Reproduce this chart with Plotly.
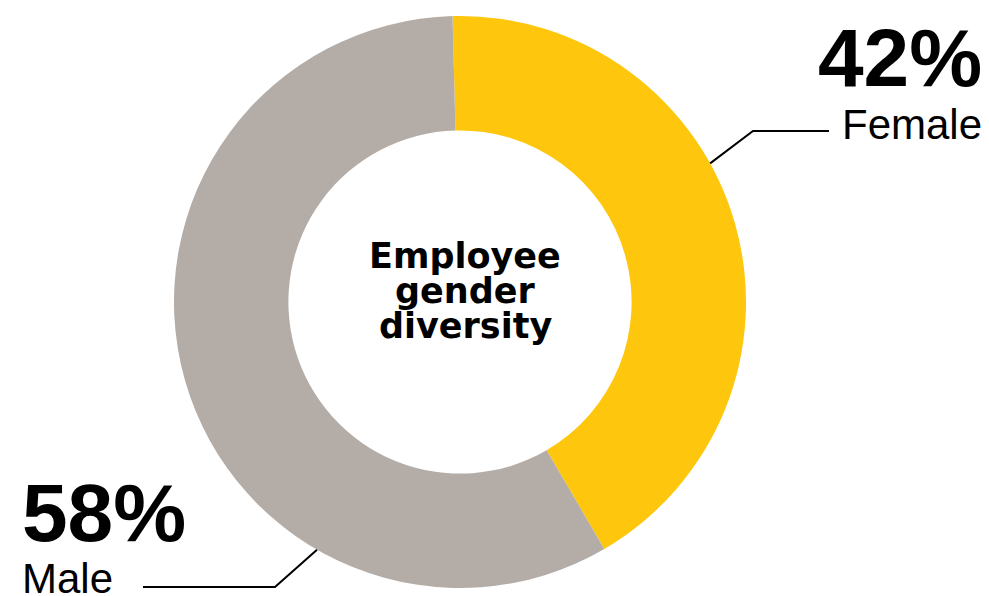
import math
import plotly.graph_objects as go

# Workforce split
labels = ["Female", "Male"]
shares = [42, 58]
colors = ["#FEC70D", "#B4ACA6"]
title_lines = ["Employee", "gender", "diversity"]

W, H = 989, 596
CX, CY, R = 460, 302, 286          # donut centre and outer radius, px
HOLE = 0.6
ROTATION = -1.5                     # start angle of the first slice (deg, clockwise from top)


def px(x, y):
    """Convert pixel coordinates to paper coordinates."""
    return x / W, 1 - y / H


fig = go.Figure(
    go.Pie(
        labels=labels,
        values=shares,
        hole=HOLE,
        sort=False,
        direction="clockwise",
        rotation=ROTATION,
        marker=dict(colors=colors, line=dict(width=0)),
        textinfo="none",
        hoverinfo="label+percent",
        showlegend=False,
        domain=dict(x=[(CX - R) / W, (CX + R) / W], y=[1 - (CY + R) / H, 1 - (CY - R) / H]),
    )
)

BIG = dict(family="Liberation Sans, Arial, sans-serif", size=82, color="#000000")
SMALL = dict(family="Liberation Sans, Arial, sans-serif", size=42, color="#000000")
CENTER = dict(family="DejaVu Sans, sans-serif", size=35, color="#000000")


def pct(v):
    return f"<b>{v}%</b>"


annotations = []
# Female label block (right, top)
for text, font, y in [(pct(shares[0]), BIG, 57), (labels[0], SMALL, 124)]:
    x, yy = px(984, y)
    annotations.append(dict(text=text, font=font, x=x, y=yy, xref="paper", yref="paper",
                            xanchor="right", yanchor="middle", showarrow=False))
# Male label block (left, bottom)
for text, font, y in [(pct(shares[1]), BIG, 512), (labels[1], SMALL, 578)]:
    x, yy = px(20, y)
    annotations.append(dict(text=text, font=font, x=x, y=yy, xref="paper", yref="paper",
                            xanchor="left", yanchor="middle", showarrow=False))
# Centre title
for line, y in zip(title_lines, [256, 291, 326]):
    x, yy = px(CX + 5, y)
    annotations.append(dict(text=f"<b>{line}</b>", font=CENTER, x=x, y=yy, xref="paper",
                            yref="paper", xanchor="center", yanchor="middle", showarrow=False))


def leader(angle_deg, elbow, end):
    a = math.radians(angle_deg)
    sx, sy = CX + R * math.sin(a), CY - R * math.cos(a)
    pts = [px(sx, sy), px(*elbow), px(*end)]
    path = "M " + " L ".join(f"{x:.5f},{y:.5f}" for x, y in pts)
    return dict(type="path", path=path, xref="paper", yref="paper",
                line=dict(color="#000000", width=2))


shapes = [
    leader(61, (753, 131), (829, 131)),
    leader(210, (275, 587), (143, 587)),
]

fig.update_layout(
    width=W, height=H,
    margin=dict(l=0, r=0, t=0, b=0),
    paper_bgcolor="#FFFFFF",
    plot_bgcolor="#FFFFFF",
    annotations=annotations,
    shapes=shapes,
)

fig.write_html("out.html")
